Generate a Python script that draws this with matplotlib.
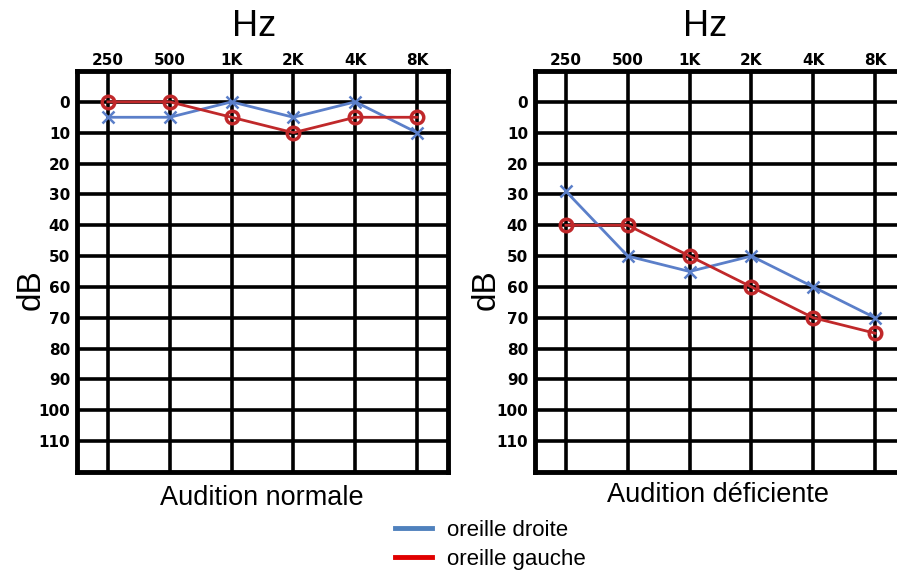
import numpy as np
import matplotlib.pyplot as plt
from matplotlib.lines import Line2D

# audiogram data (dB hearing level per frequency)
freq_labels = ['250', '500', '1K', '2K', '4K', '8K']
db_ticks = [0, 10, 20, 30, 40, 50, 60, 70, 80, 90, 100, 110]

normal_droite = [5, 5, 0, 5, 0, 10]
normal_gauche = [0, 0, 5, 10, 5, 5]
deficient_droite = [29, 50, 55, 50, 60, 70]
deficient_gauche = [40, 40, 50, 60, 70, 75]

blue = '#5b7fc9'
red = '#c0282a'

plt.rcParams['font.family'] = ['Liberation Sans', 'DejaVu Sans']

fig = plt.figure(figsize=(8.97, 5.70), dpi=100)


def draw_audiogram(ax, droite, gauche):
    xs = np.arange(len(freq_labels))
    ax.set_xlim(-0.5, len(freq_labels) - 0.5)
    ax.set_ylim(120, -10)
    ax.set_xticks(xs)
    ax.set_xticklabels(freq_labels, fontsize=11, fontweight='bold', family='DejaVu Sans')
    ax.set_yticks(db_ticks)
    ax.set_yticklabels([str(v) for v in db_ticks], fontsize=11, fontweight='bold',
                       family='DejaVu Sans')
    ax.xaxis.tick_top()
    ax.tick_params(axis='x', length=0, pad=2)
    ax.tick_params(axis='y', length=0, pad=5)
    ax.grid(True, color='black', linewidth=2.6)
    ax.set_axisbelow(True)
    for sp in ax.spines.values():
        sp.set_linewidth(3.5)
    ax.plot(xs, droite, color=blue, linewidth=2, marker='x', markersize=8,
            markeredgewidth=1.8, zorder=3)
    ax.plot(xs, gauche, color=red, linewidth=2, marker='o', markersize=9,
            markerfacecolor='none', markeredgewidth=2.5, zorder=4)


ax1 = fig.add_axes([77 / 897, 1 - 472 / 570, 371 / 897, 401 / 570])
ax2 = fig.add_axes([535 / 897, 1 - 472 / 570, 371 / 897, 401 / 570])

draw_audiogram(ax1, normal_droite, normal_gauche)
draw_audiogram(ax2, deficient_droite, deficient_gauche)

# headers and axis names
fig.text(254 / 897, 1 - 26 / 570, 'Hz', fontsize=26, ha='center', va='center')
fig.text(705 / 897, 1 - 26 / 570, 'Hz', fontsize=26, ha='center', va='center')
fig.text(31 / 897, 1 - 290 / 570, 'dB', fontsize=24, ha='center', va='center', rotation=90)
fig.text(486 / 897, 1 - 290 / 570, 'dB', fontsize=24, ha='center', va='center', rotation=90)
fig.text(262 / 897, 1 - 498 / 570, 'Audition normale', fontsize=19.5, ha='center', va='center')
fig.text(718 / 897, 1 - 495 / 570, 'Audition déficiente', fontsize=19.5, ha='center', va='center')

# legend
handles = [Line2D([], [], color='#4f81bd', linewidth=3.5),
           Line2D([], [], color='#e00000', linewidth=3.5)]
fig.legend(handles, ['oreille droite', 'oreille gauche'], loc='center left',
           bbox_to_anchor=(384 / 897, 1 - 545 / 570), frameon=False, fontsize=16,
           borderpad=0, handlelength=1.65, handletextpad=0.7, labelspacing=0.35)

fig.savefig('out.png', dpi=100)
